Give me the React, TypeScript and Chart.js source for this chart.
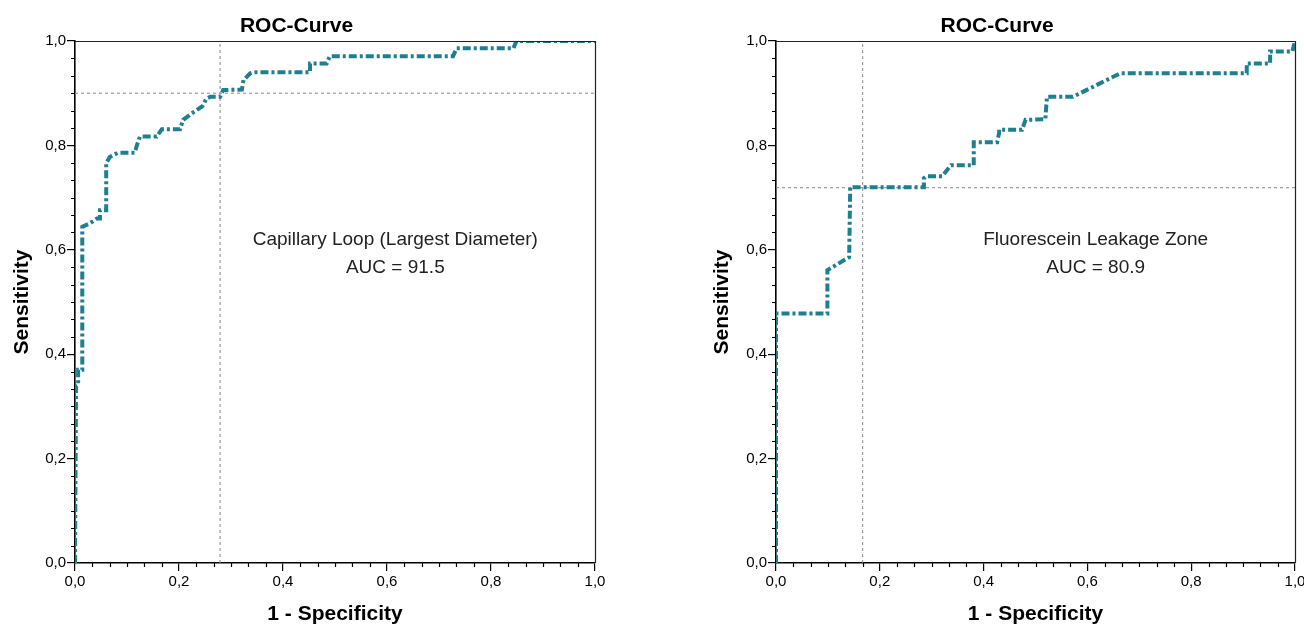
import React, { useEffect, useRef } from 'react';
import { Chart, registerables } from 'chart.js';

Chart.register(...registerables);

// ---------- data ----------
const leftFpr = [0, 0.002, 0.006, 0.006, 0.014, 0.014, 0.029, 0.042, 0.048, 0.048, 0.06, 0.06, 0.067, 0.083, 0.115, 0.119, 0.125, 0.157, 0.167, 0.202, 0.208, 0.224, 0.245, 0.253, 0.26, 0.279, 0.285, 0.321, 0.324, 0.337, 0.343, 0.452, 0.452, 0.484, 0.49, 0.727, 0.734, 0.843, 0.849, 1.0];
const leftTpr = [0, 0.338, 0.34, 0.37, 0.37, 0.644, 0.651, 0.66, 0.66, 0.676, 0.676, 0.766, 0.778, 0.786, 0.786, 0.8, 0.817, 0.817, 0.831, 0.831, 0.849, 0.861, 0.875, 0.89, 0.893, 0.893, 0.906, 0.907, 0.925, 0.938, 0.94, 0.94, 0.957, 0.957, 0.971, 0.971, 0.986, 0.986, 1.0, 1.0];

const rightFpr = [0, 0, 0.099, 0.099, 0.141, 0.143, 0.285, 0.285, 0.29, 0.32, 0.337, 0.381, 0.381, 0.426, 0.43, 0.43, 0.474, 0.481, 0.519, 0.522, 0.572, 0.58, 0.663, 0.907, 0.907, 0.952, 0.952, 0.995, 1.0];
const rightTpr = [0, 0.478, 0.478, 0.561, 0.586, 0.72, 0.72, 0.737, 0.741, 0.741, 0.762, 0.762, 0.806, 0.806, 0.824, 0.83, 0.83, 0.849, 0.85, 0.893, 0.893, 0.897, 0.938, 0.938, 0.957, 0.957, 0.98, 0.98, 1.0];

const leftCut = [0.279, 0.9];
const rightCut = [0.167, 0.719];

const leftLabels = ['Capillary Loop (Largest Diameter)', 'AUC = 91.5'];
const rightLabels = ['Fluorescein Leakage Zone', 'AUC = 80.9'];

const chartTitle = 'ROC-Curve';
const xTitle = '1 - Specificity';
const yTitle = 'Sensitivity';

const majorStep = 0.2;
const minorDivisions = 30;

const FONT = '"Liberation Sans", Arial, Helvetica, sans-serif';
const CURVE_COLOR = '#1f7f90';

const fmt = (v: number) => Number(v).toFixed(1).replace('.', ',');

const decorPlugin = {
  id: 'decor',
  afterDraw(chart: any, _args: any, opts: any) {
    const { ctx, chartArea: a, scales } = chart;
    const xs = scales.x;
    const ys = scales.y;
    ctx.save();
    // frame top & right
    ctx.strokeStyle = '#222';
    ctx.lineWidth = 1.2;
    ctx.beginPath();
    ctx.moveTo(a.left, a.top + 0.5);
    ctx.lineTo(a.right + 0.5, a.top + 0.5);
    ctx.lineTo(a.right + 0.5, a.bottom);
    ctx.stroke();
    // minor ticks
    ctx.strokeStyle = '#000';
    ctx.lineWidth = 1.2;
    ctx.beginPath();
    for (let k = 0; k <= minorDivisions; k++) {
      if (k % 6 === 0) continue;
      const v = k / minorDivisions;
      const px = Math.round(xs.getPixelForValue(v)) + 0.5;
      ctx.moveTo(px, a.bottom);
      ctx.lineTo(px, a.bottom + 4);
      const py = Math.round(ys.getPixelForValue(v)) + 0.5;
      ctx.moveTo(a.left, py);
      ctx.lineTo(a.left - 4, py);
    }
    ctx.stroke();
    // title
    ctx.fillStyle = '#000';
    ctx.textAlign = 'center';
    ctx.textBaseline = 'middle';
    ctx.font = `bold 21px ${FONT}`;
    ctx.fillText(opts.title, xs.getPixelForValue(opts.titleX), a.top - 15);
    // annotation
    ctx.fillStyle = '#222';
    ctx.font = `19px ${FONT}`;
    opts.lines.forEach((t: string, i: number) => {
      ctx.fillText(t, xs.getPixelForValue(opts.textX), ys.getPixelForValue(opts.textY[i]));
    });
    ctx.restore();
  },
};

function makeConfig(fpr: number[], tpr: number[], cut: number[], lines: string[], padRight: number, yWidth: number): any {
  const curve = fpr.map((x, i) => ({ x, y: tpr[i] }));
  return {
    type: 'line',
    data: {
      datasets: [
        {
          data: curve,
          borderColor: CURVE_COLOR,
          borderWidth: 4,
          borderDash: [8, 3, 3, 3],
          pointRadius: 0,
          tension: 0,
          order: 0,
        },
        {
          data: [{ x: cut[0], y: 0 }, { x: cut[0], y: 1 }],
          borderColor: '#8a8a8a',
          borderWidth: 1,
          borderDash: [3, 3],
          pointRadius: 0,
          order: 1,
        },
        {
          data: [{ x: 0, y: cut[1] }, { x: 1, y: cut[1] }],
          borderColor: '#8a8a8a',
          borderWidth: 1,
          borderDash: [3, 3],
          pointRadius: 0,
          order: 1,
        },
      ],
    },
    options: {
      responsive: false,
      animation: false,
      devicePixelRatio: 1,
      layout: { padding: { left: 0, top: 41, right: padRight, bottom: 0 } },
      plugins: {
        legend: { display: false },
        tooltip: { enabled: false },
        title: { display: false },
        decor: { title: chartTitle, titleX: 0.426, lines, textX: 0.616, textY: [0.619, 0.565] },
      },
      scales: {
        x: {
          type: 'linear',
          min: 0,
          max: 1,
          ticks: {
            stepSize: majorStep,
            callback: (v: any) => fmt(v),
            color: '#000',
            font: { family: FONT, size: 15 },
            padding: 2,
            maxRotation: 0,
          },
          grid: { drawOnChartArea: false, drawTicks: true, tickLength: 8, color: '#000', lineWidth: 1.2 },
          border: { display: true, color: '#000', width: 1.6 },
          title: {
            display: true,
            text: xTitle,
            color: '#000',
            font: { family: FONT, size: 21, weight: 'bold', lineHeight: 1 },
            padding: { top: 0, bottom: 0 },
          },
          afterFit: (s: any) => {
            s.height = 62;
            s.paddingLeft = 0;
            s.paddingRight = 0;
          },
        },
        y: {
          type: 'linear',
          min: 0,
          max: 1,
          ticks: {
            stepSize: majorStep,
            callback: (v: any) => fmt(v),
            color: '#000',
            font: { family: FONT, size: 15 },
            padding: 1,
          },
          grid: { drawOnChartArea: false, drawTicks: true, tickLength: 8, color: '#000', lineWidth: 1.2 },
          border: { display: true, color: '#000', width: 1.6 },
          title: {
            display: true,
            text: yTitle,
            color: '#000',
            font: { family: FONT, size: 21, weight: 'bold', lineHeight: 1.2 },
            padding: { top: 10, bottom: 0 },
          },
          afterFit: (s: any) => {
            s.width = yWidth;
            s.paddingTop = 0;
            s.paddingBottom = 0;
          },
        },
      },
    },
    plugins: [decorPlugin],
  };
}

function RocChart(props: { left: number; width: number; cfg: () => any }) {
  const ref = useRef<HTMLCanvasElement | null>(null);
  useEffect(() => {
    if (!ref.current) return;
    const chart = new Chart(ref.current, props.cfg());
    return () => chart.destroy();
  }, []);
  return (
    <canvas
      ref={ref}
      width={props.width}
      height={625}
      style={{ position: 'absolute', left: props.left, top: 0, width: props.width, height: 625 }}
    />
  );
}

export default function App() {
  return (
    <div style={{ position: 'absolute', left: 0, top: 0, width: 1304, height: 625, background: '#fff', overflow: 'hidden' }}>
      <RocChart left={0} width={652} cfg={() => makeConfig(leftFpr, leftTpr, leftCut, leftLabels, 57, 75)} />
      <RocChart left={700} width={604} cfg={() => makeConfig(rightFpr, rightTpr, rightCut, rightLabels, 9, 76)} />
    </div>
  );
}
